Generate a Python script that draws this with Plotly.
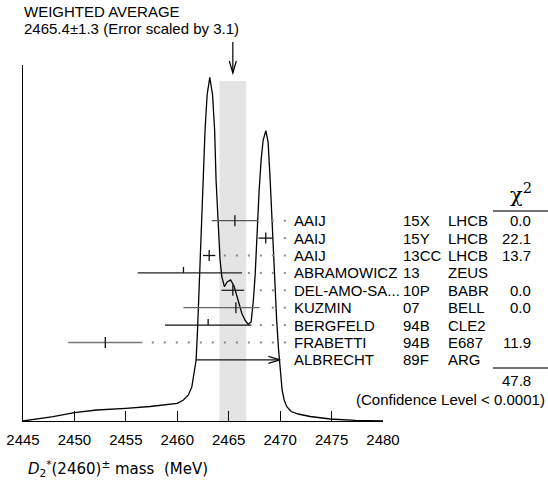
import plotly.graph_objects as go

# ---------------- data ----------------
names = ["AAIJ", "AAIJ", "AAIJ", "ABRAMOWICZ", "DEL-AMO-SA...", "KUZMIN", "BERGFELD", "FRABETTI", "ALBRECHT"]
docs = ["15X", "15Y", "13CC", "13", "10P", "07", "94B", "94B", "89F"]
tecn = ["LHCB", "LHCB", "LHCB", "ZEUS", "BABR", "BELL", "CLE2", "E687", "ARG"]
values = [2465.6, 2468.6, 2463.1, 2460.6, 2465.4, 2465.7, 2463.0, 2453.0, 2469.0]
err_minus = [2.25, 0.7, 0.6, 4.45, 1.1, 5.1, 4.2, 3.6, 7.2]
err_plus = [2.25, 0.7, 0.6, 5.7, 1.1, 2.3, 4.2, 3.6, 7.2]
chi2 = ["0.0", "22.1", "13.7", "", "0.0", "0.0", "", "11.9", ""]
tick_kind = ["full", "full", "full", "half", "full", "full", "half", "full", "none"]
arrow_to = [None, None, None, None, None, None, None, None, 2470.0]
chi2_total = "47.8"
conf_level = "(Confidence Level < 0.0001)"

avg_value = 2465.4
avg_error = 1.3
scale_factor = 3.1

# ideogram curve (mass, relative height)
curve_x = [2445.0, 2447.92, 2450.0, 2452.17, 2455.0, 2457.35, 2460.0, 2460.6, 2461.08, 2461.41,
           2461.63, 2461.83, 2461.97, 2462.15, 2462.32, 2462.51, 2462.7, 2462.9, 2463.16, 2463.43,
           2463.63, 2463.77, 2463.97, 2464.16, 2464.33, 2464.58, 2464.84, 2465.18, 2465.52, 2465.91,
           2466.27, 2466.6, 2466.89, 2467.18, 2467.4, 2467.57, 2467.76, 2467.96, 2468.15, 2468.35,
           2468.61, 2468.83, 2469.03, 2469.22, 2469.44, 2469.66, 2469.85, 2470.05, 2470.19, 2470.39,
           2470.65, 2471.07, 2471.75, 2472.92, 2474.86, 2477.3, 2480.0]
curve_y = [0.0, 4.3, 8.3, 11.0, 12.7, 14.5, 17.7, 21.0, 26.0, 34.0,
           48.0, 61.0, 91.0, 141.0, 191.0, 241.0, 291.0, 326.0, 343.7, 326.0,
           291.0, 241.0, 191.0, 161.0, 144.3, 134.3, 139.0, 141.0, 135.0, 121.0,
           107.7, 100.5, 96.7, 99.0, 121.0, 146.0, 191.0, 231.0, 261.0, 281.0,
           290.3, 279.0, 241.0, 196.0, 141.0, 101.0, 71.0, 46.0, 31.0, 21.0,
           14.3, 9.5, 7.0, 4.5, 2.0, 0.7, 0.0]

x_ticks = [2445, 2450, 2455, 2460, 2465, 2470, 2475, 2480]

# ---------------- layout geometry ----------------
W, H = 548, 483
L, R, T, B = 23, 165, 65, 62
PW, PH = W - L - R, H - T - B
XMIN, XMAX = 2445, 2480
YMAX = PH  # y axis in pixel-like units
ROW0, ROWSTEP = 200.3, 17.4

def px_x(px):
    return (px - L) / PW

def px_y(py):
    return (H - B - py) / PH

def data_to_paper_x(v):
    return (v - XMIN) / (XMAX - XMIN)

FONT = "Liberation Sans, Arial, sans-serif"
FS = 15
fig = go.Figure()

shapes = []
annotations = []

# weighted-average band
shapes.append(dict(type="rect", xref="x", yref="y", x0=avg_value - avg_error, x1=avg_value + avg_error,
                   y0=0, y1=340, fillcolor="#e4e4e4", line=dict(width=0), layer="below"))

# ideogram curve
fig.add_trace(go.Scatter(x=curve_x, y=curve_y, mode="lines", line=dict(color="black", width=1.3),
                         hoverinfo="skip", showlegend=False))

colors = ["#555555", "#111111", "#111111", "#222222", "#222222", "#666666", "#111111", "#777777", "#111111"]

dot_x, dot_y = [], []
for i, v in enumerate(values):
    yr = ROW0 - ROWSTEP * i
    lo = v - err_minus[i]
    hi = v + err_plus[i] if arrow_to[i] is None else arrow_to[i]
    c = colors[i]
    fig.add_trace(go.Scatter(x=[lo, hi], y=[yr, yr], mode="lines", line=dict(color=c, width=1.3),
                             hoverinfo="skip", showlegend=False))
    if tick_kind[i] == "full":
        fig.add_trace(go.Scatter(x=[v, v], y=[yr - 5.5, yr + 5.5], mode="lines",
                                 line=dict(color="#111111", width=1.3), hoverinfo="skip", showlegend=False))
    elif tick_kind[i] == "half":
        fig.add_trace(go.Scatter(x=[v, v], y=[yr, yr + 6], mode="lines",
                                 line=dict(color="#111111", width=1.3), hoverinfo="skip", showlegend=False))
    if arrow_to[i] is not None:
        a = arrow_to[i]
        fig.add_trace(go.Scatter(x=[a - 1.15, a, a - 1.15], y=[yr + 3.5, yr, yr - 3.5], mode="lines",
                                 line=dict(color="#111111", width=1.1), hoverinfo="skip", showlegend=False))
    # leader dots
    k = 0
    while True:
        dx = 2470.46 - 1.167 * k
        if dx <= hi + 0.5:
            break
        dot_x.append(dx)
        dot_y.append(yr)
        k += 1
    # text columns
    annotations.append(dict(x=px_x(292), y=yr, xref="paper", yref="y", text=names[i], showarrow=False,
                            xanchor="left", yanchor="middle", font=dict(family=FONT, size=FS, color="black")))
    annotations.append(dict(x=px_x(401), y=yr, xref="paper", yref="y", text=docs[i], showarrow=False,
                            xanchor="left", yanchor="middle", font=dict(family=FONT, size=FS, color="black")))
    annotations.append(dict(x=px_x(446), y=yr, xref="paper", yref="y", text=tecn[i], showarrow=False,
                            xanchor="left", yanchor="middle", font=dict(family=FONT, size=FS, color="black")))
    if chi2[i]:
        annotations.append(dict(x=px_x(533), y=yr, xref="paper", yref="y", text=chi2[i], showarrow=False,
                                xanchor="right", yanchor="middle", font=dict(family=FONT, size=FS, color="black")))

fig.add_trace(go.Scatter(x=dot_x, y=dot_y, mode="markers", marker=dict(color="#888888", size=2, symbol="square"),
                         hoverinfo="skip", showlegend=False))

# chi2 header, rules, total
annotations.append(dict(x=px_x(534), y=px_y(193), xref="paper", yref="paper", text="χ<sup>2</sup>",
                        showarrow=False, xanchor="right", yanchor="middle",
                        font=dict(family="DejaVu Serif, serif", size=21, color="black")))
shapes.append(dict(type="line", xref="paper", yref="paper", x0=px_x(493), x1=px_x(548), y0=px_y(211), y1=px_y(211),
                   line=dict(color="#444444", width=1.3)))
shapes.append(dict(type="line", xref="paper", yref="paper", x0=px_x(493), x1=px_x(548), y0=px_y(368), y1=px_y(368),
                   line=dict(color="#444444", width=1.3)))
annotations.append(dict(x=px_x(533), y=px_y(380), xref="paper", yref="paper", text=chi2_total, showarrow=False,
                        xanchor="right", yanchor="middle", font=dict(family=FONT, size=FS, color="black")))
annotations.append(dict(x=px_x(547), y=px_y(399), xref="paper", yref="paper", text=conf_level, showarrow=False,
                        xanchor="right", yanchor="middle", font=dict(family=FONT, size=FS, color="black")))

# title block
annotations.append(dict(x=px_x(22), y=px_y(11.5), xref="paper", yref="paper", text="WEIGHTED AVERAGE",
                        showarrow=False, xanchor="left", yanchor="middle",
                        font=dict(family=FONT, size=FS, color="black")))
annotations.append(dict(x=px_x(22), y=px_y(29), xref="paper", yref="paper",
                        text=f"{avg_value}±{avg_error} (Error scaled by {scale_factor})",
                        showarrow=False, xanchor="left", yanchor="middle",
                        font=dict(family=FONT, size=FS, color="black")))

# average arrow
ax = data_to_paper_x(avg_value)
hw = 0.34 / (XMAX - XMIN)
shapes.append(dict(type="line", xref="paper", yref="paper", x0=ax, x1=ax, y0=px_y(42), y1=px_y(73),
                   line=dict(color="black", width=1.2)))
shapes.append(dict(type="path", xref="paper", yref="paper",
                   path=f"M {ax - hw},{px_y(61)} L {ax},{px_y(73)} L {ax + hw},{px_y(61)}",
                   line=dict(color="black", width=1.2)))

# x axis title
annotations.append(dict(x=px_x(26), y=px_y(468), xref="paper", yref="paper",
                        text="<i>D</i><sub>2</sub><sup>*</sup>(2460)<sup>±</sup> mass  (MeV)",
                        showarrow=False, xanchor="left", yanchor="middle",
                        font=dict(family="DejaVu Sans, sans-serif", size=15, color="black")))

fig.update_layout(
    width=W, height=H, autosize=False,
    margin=dict(l=L, r=R, t=T, b=B, pad=0),
    paper_bgcolor="white", plot_bgcolor="white",
    showlegend=False,
    shapes=shapes, annotations=annotations,
    xaxis=dict(range=[XMIN, XMAX], tickmode="array", tickvals=x_ticks, ticktext=[str(t) for t in x_ticks],
               ticks="inside", ticklen=10, tickwidth=1, tickcolor="black",
               showline=True, linecolor="black", linewidth=1, showgrid=False, zeroline=False,
               ticklabelstandoff=5, automargin=False,
               tickfont=dict(family=FONT, size=FS, color="black")),
    yaxis=dict(range=[0, YMAX], showline=True, linecolor="black", linewidth=1, showgrid=False,
               zeroline=False, showticklabels=False, ticks="", automargin=False),
)

fig.write_html("out.html", config={"displayModeBar": False})

# remove the default page margin so the figure sits at the window's top-left corner
with open("out.html", "r", encoding="utf-8") as f:
    html = f.read()
html = html.replace("<head>", "<head><style>html,body{margin:0;padding:0;overflow:hidden;}</style>", 1)
with open("out.html", "w", encoding="utf-8") as f:
    f.write(html)
